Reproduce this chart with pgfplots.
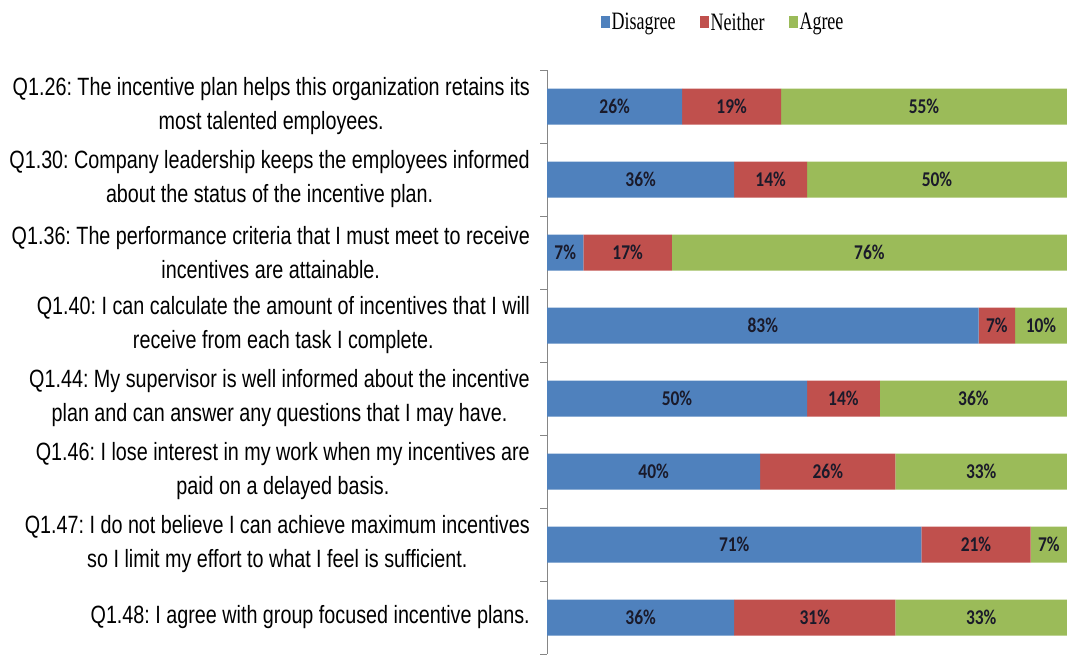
\documentclass[border=0pt]{standalone}
\usepackage{pgfplots}
\pgfplotsset{compat=1.18}
\usepackage{pgfplotstable}
\usepackage{fontspec}
\setmainfont{Liberation Sans}
\newfontfamily\labfont[FakeStretch=0.79]{Liberation Sans}
\newfontfamily\legfont[FakeStretch=0.72]{Liberation Serif}
\newfontfamily\valfont[FakeStretch=0.83]{Carlito}
\definecolor{cDis}{HTML}{4F81BD}
\definecolor{cNei}{HTML}{C0504D}
\definecolor{cAgr}{HTML}{9BBB59}
\definecolor{cAx}{HTML}{868686}
\definecolor{cVal}{HTML}{1A1A2A}
\frenchspacing

\pgfplotstableread{
y d dl n nl a al
0 26 26 19 19 55 55
1 36 36 14 14 50 50
2 7 7 17 17 76 76
3 83 83 7 7 10 10
4 50 50 14 14 36 36
5 41 40 26 26 33 33
6 72 71 21 21 7 7
7 36 36 31 31 33 33
}\datatable

\begin{document}
\frenchspacing
\begin{tikzpicture}
\path[use as bounding box] (0,0) rectangle (1067pt,654pt);
\begin{axis}[
  at={(547pt,0pt)}, anchor=south west,
  scale only axis, width=520pt, height=584pt,
  xbar stacked, bar width=36pt,
  xmin=0, xmax=100, ymin=-0.5, ymax=7.5, y dir=reverse,
  axis x line=none, axis y line*=left,
  axis line style={draw=cAx, line width=0.8pt},
  ytick={0,...,7},
  major tick length=0pt,
  yticklabels={
    {Q1.26: The incentive plan helps this organization retains its\\most talented employees.},
    {Q1.30: Company leadership keeps the employees informed\\about the status of the incentive plan.},
    {Q1.36: The performance criteria that I must meet to receive\\incentives are attainable.},
    {Q1.40: I can calculate the amount of incentives that I will\\receive from each task I complete.},
    {Q1.44: My supervisor is well informed about the incentive\\plan and can answer any questions that I may have.},
    {Q1.46: I lose interest in my work when my incentives are\\paid on a delayed basis.},
    {Q1.47: I do not believe I can achieve maximum incentives\\so I limit my effort to what I feel is sufficient.},
    {Q1.48: I agree with group focused incentive plans.}
  },
  yticklabel style={align=center, inner sep=0pt, xshift=-17pt,
    font=\labfont\frenchspacing\fontsize{25}{34}\selectfont, text=black},
  extra y ticks={-0.5,0.5,...,7.5},
  extra y tick labels={},
  extra y tick style={major tick length=7pt, tick align=outside,
    tick style={draw=cAx, line width=0.8pt}},
  point meta=explicit symbolic,
  nodes near coords={\pgfplotspointmeta\%},
  every node near coord/.append style={anchor=center,
    font=\valfont\bfseries\fontsize{21}{21}\selectfont, text=cVal},
  legend columns=3,
  legend style={at={(0.3385,1.082)}, anchor=center, draw=none, fill=none,
    font=\legfont\fontsize{25}{25}\selectfont, inner sep=0pt,
    nodes={inner sep=1.5pt},
    /tikz/every even column/.append style={column sep=23pt}},
  legend image code/.code={\fill[#1] (0pt,-6pt) rectangle (9pt,6pt);},
]
\addplot[fill=cDis, draw=none] table[x=d, y=y, meta=dl] {\datatable};
\addplot[fill=cNei, draw=none] table[x=n, y=y, meta=nl] {\datatable};
\addplot[fill=cAgr, draw=none] table[x=a, y=y, meta=al] {\datatable};
\legend{Disagree, Neither, Agree}
\end{axis}
\end{tikzpicture}
\end{document}
